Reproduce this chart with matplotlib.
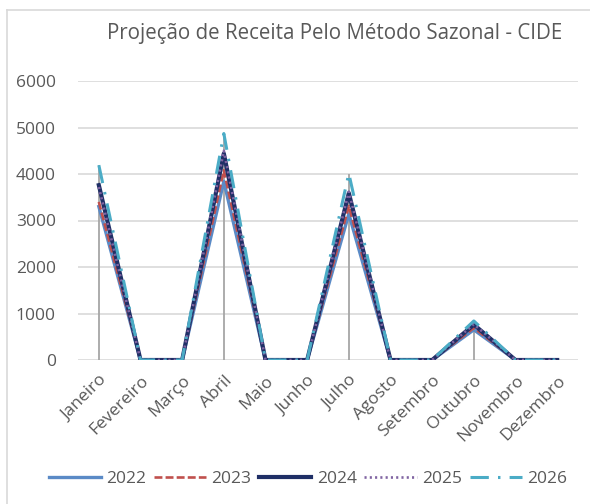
import numpy as np
import matplotlib.pyplot as plt
from matplotlib.lines import Line2D

plt.rcParams['font.family'] = ['Open Sans', 'DejaVu Sans']

# Dados
meses = ['Janeiro', 'Fevereiro', 'Março', 'Abril', 'Maio', 'Junho',
         'Julho', 'Agosto', 'Setembro', 'Outubro', 'Novembro', 'Dezembro']
anos = ['2022', '2023', '2024', '2025', '2026']
receita_2022 = [3300, 0, 0, 3840, 0, 0, 3140, 0, 0, 650, 0, 0]
receita_2023 = [3400, 0, 0, 4080, 0, 0, 3310, 0, 0, 690, 0, 0]
receita_2024 = [3760, 0, 0, 4440, 0, 0, 3590, 0, 0, 760, 0, 0]
receita_2025 = [3720, 0, 0, 4500, 0, 0, 3620, 0, 0, 770, 0, 0]
receita_2026 = [4190, 0, 0, 4870, 0, 0, 4010, 0, 0, 840, 0, 0]

series = [receita_2022, receita_2023, receita_2024, receita_2025, receita_2026]
cores = ['#5A8AC6', '#C0504D', '#1F2F66', '#8064A2', '#4BACC6']
estilos = ['-', (0, (3, 1.2)), '-', (0, (0.8, 1.2)), (0, (6, 3, 0.8, 3))]
larguras = [2.4, 1.9, 3.0, 1.9, 2.2]

TXT = '#595959'

fig = plt.figure(figsize=(5.90, 5.04), dpi=100)
ax = fig.add_axes([78 / 590, 1 - 360 / 504, 500 / 590, (360 - 81) / 504])

x = np.arange(len(meses))

# linhas de projeção (drop lines)
topo = np.max(np.array(series), axis=0)
ax.vlines(x, 0, topo, color='#A6A6A6', lw=1.3, zorder=2)

for ano, vals, c, ls, lw in zip(anos, series, cores, estilos, larguras):
    ax.plot(x, vals, color=c, linestyle=ls, lw=lw, label=ano, zorder=3)

ax.set_xlim(-0.5, len(meses) - 0.5)
ax.set_ylim(0, 6000)
ax.set_yticks(np.arange(0, 6001, 1000))
ax.yaxis.grid(True, color='#D9D9D9', lw=1.2)
ax.set_axisbelow(True)
for s in ax.spines.values():
    s.set_visible(False)
ax.tick_params(length=0, colors=TXT, labelsize=12.5)
ax.tick_params(axis='y', pad=16)
ax.tick_params(axis='x', pad=9)
ax.set_xticks(x)
ax.set_xticklabels(meses, rotation=45, ha='right', va='top', rotation_mode='anchor')

fig.text(335 / 590, 1 - 33 / 504, 'Projeção de Receita Pelo Método Sazonal - CIDE',
         ha='center', va='center', fontsize=14.8, color=TXT)

handles = [Line2D([], [], color=c, linestyle=ls, lw=lw)
           for c, ls, lw in zip(cores, estilos, larguras)]
fig.legend(handles, anos, loc='center', bbox_to_anchor=(308 / 590, 1 - 479 / 504),
           ncol=5, frameon=False, fontsize=12.5, handlelength=3.0,
           handletextpad=0.3, columnspacing=0.45, labelcolor=TXT)

# borda do gráfico
fig.add_artist(Line2D([7 / 590, 7 / 590], [0, 1 - 10 / 504], color='#D9D9D9', lw=1.2,
                      transform=fig.transFigure))
fig.add_artist(Line2D([7 / 590, 1], [1 - 10 / 504, 1 - 10 / 504], color='#D9D9D9', lw=1.2,
                      transform=fig.transFigure))

fig.savefig('out.png', dpi=100)
